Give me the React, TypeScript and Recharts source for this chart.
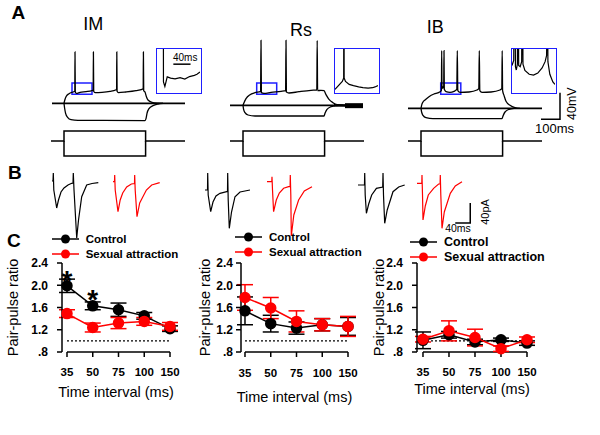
import React from "react";
import {
  ComposedChart,
  Line,
  XAxis,
  YAxis,
  ReferenceArea,
  ReferenceLine,
  ErrorBar,
  Scatter,
  Legend,
} from "recharts";

const FONT = "Arial, 'Liberation Sans', Helvetica, sans-serif";
const BLUE = "#1f1fff";
const RED = "#ff0000";

type Pt = [number, number];

// ---- panel C: paired-pulse ratio ----
const intervals = ["35", "50", "75", "100", "150"];
const imControl = [1.99, 1.63, 1.56, 1.45, 1.22];
const imControlSem = [0.12, 0.07, 0.12, 0.06, 0.05];
const imSexual = [1.49, 1.24, 1.32, 1.35, 1.26];
const imSexualSem = [0.07, 0.08, 0.1, 0.07, 0.07];
const rsControl = [1.54, 1.31, 1.23, 1.29, 1.26];
const rsControlSem = [0.25, 0.15, 0.11, 0.11, 0.16];
const rsSexual = [1.78, 1.59, 1.35, 1.29, 1.26];
const rsSexualSem = [0.23, 0.19, 0.19, 0.11, 0.18];
const ibControl = [1.01, 1.11, 0.98, 1.02, 0.96];
const ibControlSem = [0.15, 0.06, 0.05, 0.03, 0.04];
const ibSexual = [1.03, 1.18, 1.06, 0.86, 1.02];
const ibSexualSem = [0.05, 0.18, 0.15, 0.05, 0.05];
const imStars = [{ x: 0, y: 2.2 }, { x: 1, y: 1.86 }];
const pprTicks = [0.8, 1.2, 1.6, 2.0, 2.4];

// ---- panel A: current-clamp traces (t ms, mV) ----
const imDepol: Pt[] = [[0,-65],[4,-60],[10,-55],[25,-50.5],[45,-48],[54,-47],[55,12],[56.5,-48],[62,-50],[80,-48.5],[110,-47.5],[140,-46],[146,-45],[147,12],[148.5,-47],[155,-49],[190,-48.5],[230,-47],[258,-45],[263,-44],[264,12],[265.5,-47],[272,-49],[310,-48],[360,-46],[390,-44],[396,-43],[397,12],[398.5,-46],[405,-48],[412,-55],[420,-60],[440,-63.5],[470,-64.7],[495,-65]];
const imHyper: Pt[] = [[0,-65],[3,-72],[8,-80],[18,-86],[35,-89.5],[70,-90.5],[405,-90.8],[410,-88],[415,-80],[425,-73],[445,-68.5],[470,-66],[495,-65]];
const imRest: Pt[] = [[-60,-65],[605,-65]];
const rsDepol: Pt[] = [[0,-68],[5,-64],[15,-58],[35,-52],[60,-49],[88,-47],[90,29.5],[92,-49],[105,-50],[140,-48.5],[190,-47],[213,-46],[215,29.5],[217,-48],[230,-49.5],[280,-47.5],[340,-45.5],[369,-45],[371,29.5],[373,-46],[390,-45.5],[405,-46],[415,-52],[430,-59],[450,-64],[470,-67],[500,-68]];
const rsHyper: Pt[] = [[0,-68],[3,-74],[10,-79],[25,-82.5],[60,-84],[405,-84],[410,-80],[420,-74],[440,-70],[460,-68.5],[480,-68]];
const rsRest: Pt[] = [[-65,-68],[600,-68]];
const rsNoiseThin: Pt[] = [[455,-68],[520,-68.3]];
const rsNoiseThick: Pt[] = [[510,-68.5],[600,-68.5]];
const ibDepol: Pt[] = [[0,-72.5],[3,-68],[10,-63],[20,-60],[40,-55],[65,-51],[90,-48.5],[102,-46],[103.5,14],[105,-43],[109,-40.5],[113.5,-42],[115,14],[116.5,-44],[125,-47.5],[145,-48.5],[165,-47],[179,-44],[181.5,14],[184,-46],[195,-48.5],[240,-48],[280,-45],[289,-43],[291.5,14],[294,-46],[305,-48.5],[350,-48],[395,-45],[404,-43],[406,14],[408,-46],[415,-53],[425,-62],[445,-68],[470,-71.5],[495,-72.5]];
const ibHyper: Pt[] = [[0,-72.5],[3,-78],[10,-83],[25,-86.5],[60,-88],[405,-88],[410,-84],[420,-78],[440,-74],[465,-72.5]];
const ibRest: Pt[] = [[-65,-72.5],[605,-72.5]];
const stimDepol: Pt[] = [[-65,0],[0,0],[0,100],[408,100],[408,0],[605,0]];
const stimHyper: Pt[] = [[0,0],[0,-150],[408,-150],[408,0]];
const scaleBarA: Pt[] = [[600,-89],[695,-89],[695,-49]];

// insets (t ms within the blue box, mV)
const imInset: Pt[] = [[14.6,20],[15,-48],[18.3,-49.8],[23.8,-46],[31.6,-46.5],[42,-46.8],[53.6,-46.3],[64.7,-46.9],[75.7,-45.9],[86.8,-45.4],[93,-45],[100,-44.1]];
const imInsetBar: Pt[] = [[38,-41],[78,-41]];
const rsInset: Pt[] = [[0,-51],[8,-49.5],[17,-47.8],[20.2,-46.5],[20.7,20],[21.3,-46.5],[24.4,-47.8],[33,-49],[43,-49.5],[55,-50],[65,-50.3],[77,-50.5],[87.4,-50.3],[93,-50],[100,-49.5]];
const ibInset: Pt[] = [[0,-41.5],[4,-39.5],[6,20],[8,-42],[10,-43.3],[12.5,-41],[14,20],[15.5,-41.5],[19,-42],[22.5,-40],[24,20],[25.5,-41],[30,-43.5],[40,-45],[50,-45.3],[60,-44.5],[70,-42.5],[77,-40],[80.5,-37.5],[82,20],[83.5,-40],[88,-45],[95,-48],[100,-49]];

// ---- panel B: paired-pulse EPSCs (t ms, pA) ----
const imEpscCtrl: Pt[] = [[0,0],[2.7,0],[3.5,16],[4.8,-18],[12.5,-54],[17.3,-38],[24,-22],[32,-14],[42.7,-8],[52.5,-4.6],[56,-4],[56.8,16],[58.7,-18],[65.9,-114],[70.7,-78],[79.2,-31.4],[92.5,-8],[106.7,-5],[123.5,-3.4]];
const imEpscSex: Pt[] = [[0,-1.4],[4,-1.4],[4.5,12],[5.9,-18],[13.3,-61.4],[19.2,-38],[25.9,-24],[36.5,-12],[49,-6],[57.3,-5],[57.8,12],[59.2,-18],[64,-71.4],[71.2,-44],[89,-18],[103.2,-8],[124.5,-3.4]];
const rsEpscCtrl: Pt[] = [[0,-18],[6.7,-18],[7.2,16],[8.5,-28],[15.2,-61.4],[21.3,-42],[29.3,-30],[40,-24.6],[57.9,-21.4],[60,-21],[60.5,16],[61.9,-38],[64.8,-94.6],[70.7,-62],[80,-31.4],[93.4,-22],[120,-18]];
const rsEpscSex: Pt[] = [[0,-1.4],[12.8,-1.4],[13.3,8.6],[14.7,-18],[17.6,-61.4],[24.8,-38],[32.8,-24],[44.3,-14.6],[57.6,-11.4],[61.6,-11],[62.1,12],[63.5,-28],[64.8,-110],[71.5,-68],[84.3,-38],[99.5,-20],[120,-11.4]];
const ibEpscCtrl: Pt[] = [[0,-8],[17.3,-8],[17.9,16],[19.2,-28],[22.4,-64.6],[28.5,-46],[36.5,-28],[49.1,-14.6],[65.9,-12],[66.7,16],[68,-28],[71.2,-84.6],[77.9,-58],[93.3,-21.4],[108.5,-12],[124.5,-8]];
const ibEpscSex: Pt[] = [[0,-4.6],[12.8,-4.6],[13.3,12],[14.7,-28],[16,-78],[22.1,-50],[30.1,-28],[44.3,-14.6],[57.6,-6],[61.6,-6],[62.1,12],[63.5,-28],[66.7,-94.6],[72.8,-62],[88.8,-24.6],[102.1,-10],[120,-1.4]];
const scaleBarB: Pt[] = [[102,-84],[142,-84],[142,-44]];

const toRows = (pts: Pt[]) => pts.map(([t, v]) => ({ t, v }));

const trace = (key: string, pts: Pt[], color = "#000", width = 1.3, axis = "v", type: any = "linear") => (
  <Line
    key={key}
    yAxisId={axis}
    data={toRows(pts)}
    dataKey="v"
    type={type}
    stroke={color}
    strokeWidth={width}
    dot={false}
    activeDot={false}
    legendType="none"
    isAnimationActive={false}
  />
);

function CellTraces({ left, lines, box }: { left: number; lines: React.ReactNode[]; box: [number, number] }) {
  return (
    <div style={{ position: "absolute", left, top: 29.67 }}>
      <ComposedChart width={156} height={130} margin={{ top: 0, right: 0, bottom: 0, left: 0 }}>
        <XAxis dataKey="t" type="number" domain={[-70, 710]} hide />
        <YAxis yAxisId="v" type="number" domain={[-150, 45]} hide />
        <YAxis yAxisId="i" type="number" domain={[-190, 1110]} hide />
        {trace("sd", stimDepol, "#000", 1.5, "i")}
        {trace("sh", stimHyper, "#000", 1.5, "i")}
        {lines}
        <ReferenceArea yAxisId="v" x1={box[0]} x2={box[1]} y1={-51.5} y2={-34.5} fill="none" fillOpacity={0} stroke={BLUE} strokeWidth={1.5} ifOverflow="visible" />
      </ComposedChart>
    </div>
  );
}

function Inset({ left, top, pts, extra }: { left: number; top: number; pts: Pt[]; extra?: React.ReactNode }) {
  return (
    <div style={{ position: "absolute", left, top, width: 46, height: 46, border: `1.5px solid ${BLUE}`, boxSizing: "border-box" }}>
      <ComposedChart width={43} height={43} margin={{ top: 0, right: 0, bottom: 0, left: 0 }}>
        <XAxis dataKey="t" type="number" domain={[0, 100]} hide allowDataOverflow />
        <YAxis yAxisId="v" type="number" domain={[-52, -35]} hide allowDataOverflow />
        {trace("ins", pts, "#000", 1.2)}
        {extra}
      </ComposedChart>
    </div>
  );
}

function Epsc({ left, pts, color, extra }: { left: number; pts: Pt[]; color: string; extra?: React.ReactNode }) {
  return (
    <div style={{ position: "absolute", left, top: 168 }}>
      <ComposedChart width={60} height={74} margin={{ top: 0, right: 0, bottom: 0, left: 0 }}>
        <XAxis dataKey="t" type="number" domain={[0, 160]} hide />
        <YAxis yAxisId="v" type="number" domain={[-122, 26]} hide />
        {trace("e", pts, color, 1.2)}
        {extra}
      </ComposedChart>
    </div>
  );
}

const buildRows = (c: number[], ce: number[], s: number[], se: number[]) =>
  intervals.map((_, i) => ({ x: i, ctrl: c[i], ctrlErr: ce[i], sa: s[i], saErr: se[i] }));

function LegendRows({ payload, fontSize }: { payload?: any[]; fontSize: number }) {
  const items = (payload || []).filter((e: any) => e.type !== "none" && (e.dataKey === "ctrl" || e.dataKey === "sa"));
  return (
    <div>
      {items.map((e: any) => (
        <div key={e.value} style={{ display: "flex", alignItems: "center", height: 14.8 }}>
          <svg width={27} height={12} style={{ display: "block" }}>
            <line x1={0} x2={27} y1={6} y2={6} stroke={e.color} strokeWidth={1.5} />
            <circle cx={13.5} cy={6} r={4.5} fill={e.color} />
          </svg>
          <span style={{ marginLeft: 7, fontFamily: FONT, fontWeight: "bold", fontSize, color: "#000", whiteSpace: "nowrap" }}>
            {e.value}
          </span>
        </div>
      ))}
    </div>
  );
}

type PprProps = {
  left: number;
  rows: any[];
  yAxisWidth: number;
  marginRight: number;
  xMin: number;
  legendLeft: number;
  legendTop: number;
  legendFont: number;
  xLabelOffset: number;
  yLabelOffset: number;
  yTickMargin: number;
  xTickMargin: number;
  stars?: { x: number; y: number }[];
};

function PprChart(p: PprProps) {
  const tickStyle = { fill: "#000", fontSize: 11.5, fontWeight: "bold", fontFamily: FONT };
  return (
    <div style={{ position: "absolute", left: p.left, top: 225 }}>
      <ComposedChart width={200} height={210} data={p.rows} margin={{ top: 38, right: p.marginRight, bottom: 53, left: 0 }}>
        <XAxis
          dataKey="x"
          type="number"
          domain={[p.xMin, 4]}
          ticks={[0, 1, 2, 3, 4]}
          interval={0}
          tickFormatter={(i: number) => intervals[i]}
          axisLine={false}
          tickLine={{ stroke: "#000", strokeWidth: 1.5 }}
          tickSize={5}
          tickMargin={p.xTickMargin}
          tick={tickStyle}
          height={30}
          label={{ value: "Time interval (ms)", position: "bottom", offset: p.xLabelOffset, fill: "#000", fontSize: 14.5, fontFamily: FONT }}
        />
        <YAxis
          type="number"
          domain={[0.8, 2.4]}
          ticks={pprTicks}
          interval={0}
          tickFormatter={(v: number) => (v === 0.8 ? ".8" : v.toFixed(1))}
          width={p.yAxisWidth}
          axisLine={{ stroke: "#000", strokeWidth: 1.5 }}
          tickLine={{ stroke: "#000", strokeWidth: 1.5 }}
          tickSize={5}
          tickMargin={p.yTickMargin}
          tick={{ ...tickStyle, fontSize: 12 }}
          label={{ value: "Pair-pulse ratio", angle: -90, position: "insideLeft", offset: p.yLabelOffset, fill: "#000", fontSize: 14.5, fontFamily: FONT, style: { textAnchor: "middle" } }}
        />
        <ReferenceLine segment={[{ x: 0, y: 0.8 }, { x: 4, y: 0.8 }]} stroke="#000" strokeWidth={1.5} />
        <ReferenceLine segment={[{ x: 0, y: 1 }, { x: 4, y: 1 }]} stroke="#000" strokeWidth={1.3} strokeDasharray="2 2" />
        <Legend
          layout="vertical"
          align="center"
          verticalAlign="middle"
          wrapperStyle={{ left: p.legendLeft, top: p.legendTop, width: 170 }}
          content={(lp: any) => <LegendRows payload={lp.payload} fontSize={p.legendFont} />}
        />
        <Line dataKey="ctrl" name="Control" type="linear" stroke="#000" strokeWidth={1.5} dot={{ r: 5, fill: "#000", stroke: "#000" }} activeDot={false} isAnimationActive={false}>
          <ErrorBar dataKey="ctrlErr" direction="y" width={8} stroke="#000" strokeWidth={1.5} />
        </Line>
        <Line dataKey="sa" name="Sexual attraction" type="linear" stroke={RED} strokeWidth={1.5} dot={{ r: 5, fill: RED, stroke: RED }} activeDot={false} isAnimationActive={false}>
          <ErrorBar dataKey="saErr" direction="y" width={8} stroke={RED} strokeWidth={1.5} />
        </Line>
        {p.stars && (
          <Scatter
            data={p.stars}
            dataKey="y"
            legendType="none"
            isAnimationActive={false}
            shape={(sp: any) => (
              <text x={sp.cx} y={sp.cy + 15.7} textAnchor="middle" fontSize={28} fontWeight="bold" fontFamily={FONT} fill="#000">
                *
              </text>
            )}
          />
        )}
      </ComposedChart>
    </div>
  );
}

export default function App() {
  return (
    <div style={{ position: "absolute", left: 0, top: 0, width: 600, height: 435, background: "#fff", overflow: "hidden" }}>
      {/* Panel A */}
      <CellTraces
        left={50}
        box={[40, 140]}
        lines={[trace("r", imRest, "#000", 1.6), trace("d", imDepol, "#000", 1.3, "v", "monotone"), trace("h", imHyper, "#000", 1.3, "v", "monotone")]}
      />
      <CellTraces
        left={229}
        box={[68.5, 168.5]}
        lines={[
          trace("r", rsRest, "#000", 1.6),
          trace("n1", rsNoiseThin, "#000", 2.5),
          trace("n2", rsNoiseThick, "#000", 5),
          trace("d", rsDepol, "#000", 1.3, "v", "monotone"),
          trace("h", rsHyper, "#000", 1.3, "v", "monotone"),
        ]}
      />
      <CellTraces
        left={407}
        box={[98.5, 199]}
        lines={[
          trace("r", ibRest, "#000", 1.6),
          trace("d", ibDepol, "#000", 1.3, "v", "monotone"),
          trace("h", ibHyper, "#000", 1.3, "v", "monotone"),
          trace("sb", scaleBarA, "#000", 1.5),
        ]}
      />
      <Inset left={156} top={47.5} pts={imInset} extra={trace("bar", imInsetBar, "#000", 1.5)} />
      <Inset left={334} top={47.5} pts={rsInset} />
      <Inset left={511} top={47.5} pts={ibInset} />

      {/* Panel B */}
      <Epsc left={52} pts={imEpscCtrl} color="#000" />
      <Epsc left={113.3} pts={imEpscSex} color={RED} />
      <Epsc left={205} pts={rsEpscCtrl} color="#000" />
      <Epsc left={266.7} pts={rsEpscSex} color={RED} />
      <Epsc left={358.3} pts={ibEpscCtrl} color="#000" />
      <Epsc left={416.7} pts={ibEpscSex} color={RED} extra={trace("sb", scaleBarB, "#000", 1.5)} />

      {/* Panel C */}
      <PprChart
        left={0}
        rows={buildRows(imControl, imControlSem, imSexual, imSexualSem)}
        yAxisWidth={62}
        marginRight={30}
        xMin={-0.194}
        legendLeft={51.7}
        legendTop={7}
        legendFont={11.5}
        xLabelOffset={4.7}
        yLabelOffset={13}
        yTickMargin={9}
        xTickMargin={11}
        stars={imStars}
      />
      <PprChart
        left={195}
        rows={buildRows(rsControl, rsControlSem, rsSexual, rsSexualSem)}
        yAxisWidth={46}
        marginRight={47}
        xMin={-0.155}
        legendLeft={40}
        legendTop={4.5}
        legendFont={11.5}
        xLabelOffset={9.7}
        yLabelOffset={10}
        yTickMargin={3}
        xTickMargin={12}
      />
      <PprChart
        left={370}
        rows={buildRows(ibControl, ibControlSem, ibSexual, ibSexualSem)}
        yAxisWidth={47}
        marginRight={43}
        xMin={-0.23}
        legendLeft={40}
        legendTop={9.5}
        legendFont={12.5}
        xLabelOffset={1.3}
        yLabelOffset={8.7}
        yTickMargin={9}
        xTickMargin={11}
      />

      {/* free text labels */}
      <svg width={600} height={435} style={{ position: "absolute", left: 0, top: 0, pointerEvents: "none" }} fontFamily={FONT}>
        <text x={11.5} y={18.6} fontSize={19} fontWeight="bold">A</text>
        <text x={8} y={178.6} fontSize={19} fontWeight="bold">B</text>
        <text x={7} y={246.7} fontSize={19} fontWeight="bold">C</text>
        <text x={83.3} y={29.5} fontSize={18}>IM</text>
        <text x={290} y={36} fontSize={18}>Rs</text>
        <text x={426.7} y={33.3} fontSize={18}>IB</text>
        <text x={173} y={60.7} fontSize={10}>40ms</text>
        <text x={535} y={132.7} fontSize={13}>100ms</text>
        <text x={572.5} y={103.7} fontSize={12.5} textAnchor="middle" dominantBaseline="central" transform="rotate(-90 572.5 103.7)">40mV</text>
        <text x={458} y={232} fontSize={10.5} textAnchor="middle">40ms</text>
        <text x={485} y={212} fontSize={11} textAnchor="middle" dominantBaseline="central" transform="rotate(-90 485 212)">40pA</text>
      </svg>
    </div>
  );
}
